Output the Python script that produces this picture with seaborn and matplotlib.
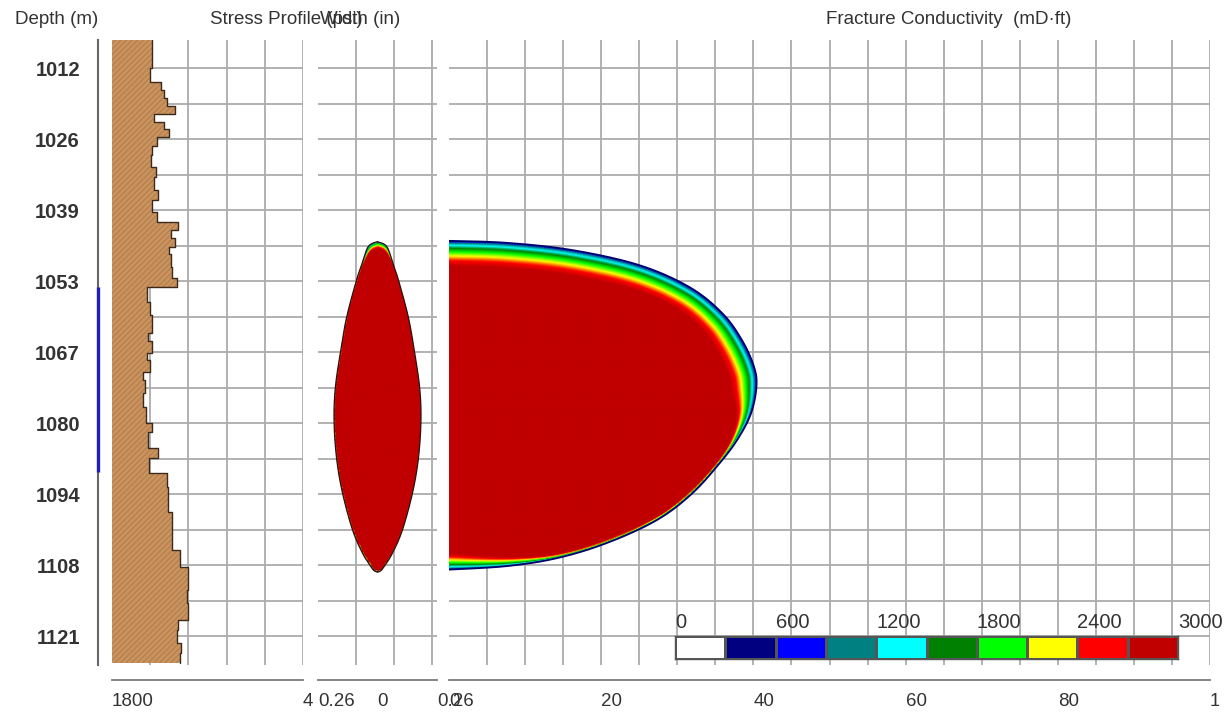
import numpy as np
import matplotlib
matplotlib.use("Agg")
import matplotlib.pyplot as plt
import seaborn as sns
from matplotlib.colors import ListedColormap, LinearSegmentedColormap
from matplotlib.patches import Polygon
from matplotlib.transforms import Bbox

# ---------------- data ----------------
depth_tick_labels = ["1012", "1026", "1039", "1053", "1067", "1080", "1094", "1108", "1121"]
depth_first_tick, depth_last_tick = 1012.2, 1121.16
depth_top, depth_bottom = 1006.8, 1126.7

perf_top, perf_bottom = 1054.2, 1089.7

layer_tops = [1006.8, 1012.2, 1014.9, 1016.4, 1018.0, 1019.5, 1021.0, 1022.6, 1023.9, 1025.4,
              1027.2, 1028.9, 1031.2, 1033.1, 1035.6, 1037.5, 1039.8, 1041.7, 1043.3, 1044.8,
              1046.5, 1047.9, 1050.4, 1052.5, 1054.2, 1057.1, 1059.6, 1063.0, 1064.6, 1066.9,
              1068.2, 1070.5, 1072.1, 1074.6, 1077.2, 1080.3, 1082.0, 1085.1, 1087.0, 1089.9,
              1092.6, 1097.4, 1100.8, 1104.7, 1107.9, 1112.3, 1114.8, 1118.1, 1120.0, 1122.5,
              1124.4]
layer_base = 1126.3
layer_stress = [2330, 2300, 2440, 2480, 2520, 2620, 2350, 2480, 2550, 2390,
                2330, 2310, 2370, 2350, 2400, 2320, 2390, 2660, 2570, 2620,
                2540, 2570, 2590, 2650, 2260, 2300, 2320, 2270, 2320, 2260,
                2300, 2200, 2230, 2200, 2240, 2330, 2270, 2400, 2280, 2520,
                2530, 2590, 2580, 2690, 2790, 2780, 2790, 2660, 2650, 2700,
                2690]
stress_range = (1800, 4300)
stress_grid_step = 500
stress_tick_labels = ["1800", "4300"]

width_depth = [1045.5, 1045.8, 1046.35, 1047.5, 1050.0, 1052.9, 1060.0, 1066.7, 1073.4,
               1079.7, 1087.0, 1093.7, 1100.8, 1105.2, 1107.7, 1108.6, 1108.9]
width_half = [0.0, 0.022, 0.039, 0.052, 0.070, 0.092, 0.135, 0.162, 0.184,
              0.190, 0.179, 0.153, 0.109, 0.066, 0.031, 0.015, 0.0]
width_band_px = [7, 7, 6, 3.5, 0.8, 0.5, 0.5, 0.5, 0.5, 0.5, 0.5, 0.5, 0.5, 0.5, 0.5, 0.5, 0.5]
width_range = (-0.26, 0.26)
width_tick_values = [-0.26, 0.0, 0.26]
width_tick_labels = ["0.26", "0", "0.26"]
width_grid_step = 0.166

frac_length = [0.0, 7.6, 16.25, 25.0, 31.6, 35.9, 38.5, 40.1, 40.4, 39.7, 38.1, 35.9,
               32.0, 27.3, 20.7, 14.2, 7.6, 0.0]
frac_depth = [1045.33, 1045.71, 1047.11, 1049.99, 1054.21, 1059.20, 1064.38, 1069.56,
              1073.39, 1078.38, 1082.99, 1087.40, 1093.73, 1098.91, 1103.32, 1106.20,
              1107.73, 1108.40]
frac_band_px = [25, 25, 25, 25, 25, 26, 27, 27, 25, 15, 7, 3, 3, 3, 3, 4, 9, 16]
length_range = (0, 100)
length_tick_values = [0, 10, 20, 30, 40, 50, 60, 70, 80, 90, 100]
length_tick_labels = ["0", "", "20", "", "40", "", "60", "", "80", "", "100"]
length_grid_step = 5

cond_colors = ["#ffffff", "#000080", "#0000ff", "#008080", "#00ffff",
               "#008000", "#00ff00", "#ffff00", "#ff0000", "#c00000"]
cond_labels = ["0", "600", "1200", "1800", "2400", "3000"]
cond_max = 3000

# ---------------- style ----------------
sns.set_style("white")
plt.rcParams["font.family"] = ["Liberation Sans", "DejaVu Sans"]
plt.rcParams["hatch.linewidth"] = 0.7
TXT = "#333333"
AXC = "#7a7a7a"
GCOL = "#ababab"
GLW = 1.3

W, H = 1230, 713
fig = plt.figure(figsize=(W / 100, H / 100), dpi=100)
fig.patch.set_facecolor("white")


def rect(x0, x1, y0=40, y1=665):
    return [x0 / W, 1 - y1 / H, (x1 - x0) / W, (y1 - y0) / H]


ax_d = fig.add_axes(rect(98, 99))
ax_s = fig.add_axes(rect(112, 303))
ax_w = fig.add_axes(rect(318, 437))
ax_c = fig.add_axes(rect(449, 1210))

half_step = (depth_last_tick - depth_first_tick) / 16
hgrid = np.arange(depth_first_tick, depth_bottom, half_step)
dticks = np.linspace(depth_first_tick, depth_last_tick, len(depth_tick_labels))


def setup_panel(ax, xlim, xgrid):
    ax.set_xlim(*xlim)
    ax.set_ylim(depth_bottom, depth_top)
    ax.set_yticks(hgrid)
    ax.tick_params(axis="y", length=0, labelleft=False)
    ax.set_xticks(xgrid, minor=True)
    ax.xaxis.remove_overlapping_locs = False
    ax.yaxis.grid(True, color=GCOL, lw=GLW)
    ax.xaxis.grid(True, which="minor", color=GCOL, lw=GLW)
    ax.xaxis.grid(False, which="major")
    ax.tick_params(axis="x", which="minor", length=0)
    for s in ["top", "right", "left"]:
        ax.spines[s].set_visible(False)
    ax.set_axisbelow(True)


def bottom_axis(ax, ticks, labels):
    ax.spines["bottom"].set_position(("outward", 11))
    ax.spines["bottom"].set_color(AXC)
    ax.spines["bottom"].set_linewidth(1.3)
    ax.set_xticks(ticks)
    ax.set_xticklabels(labels)
    ax.tick_params(axis="x", which="major", direction="out", length=6, width=1.3,
                   color=AXC, labelsize=13.5, labelcolor=TXT, pad=3)
    for lab in ax.get_xticklabels():
        lab.set_ha("left")


def catmull(P, n=24):
    P = np.asarray(P, float)
    ext = np.vstack([P[0], P, P[-1]])
    t = np.linspace(0, 1, n, endpoint=False)[:, None]
    segs = []
    for i in range(1, len(ext) - 2):
        p0, p1, p2, p3 = ext[i - 1], ext[i], ext[i + 1], ext[i + 2]
        segs.append(0.5 * (2 * p1 + (-p0 + p2) * t + (2 * p0 - 5 * p1 + 4 * p2 - p3) * t ** 2
                           + (-p0 + 3 * p1 - 3 * p2 + p3) * t ** 3))
    segs.append(P[-1:])
    return np.vstack(segs)


def band_field(ax, curve_xy, curve_t, gx, gy):
    B = ax.transData.transform(curve_xy)
    G = ax.transData.transform(np.column_stack([gx.ravel(), gy.ravel()]))
    out = np.empty(len(G))
    for k in range(0, len(G), 3000):
        g = G[k:k + 3000]
        d = np.hypot(g[:, None, 0] - B[None, :, 0], g[:, None, 1] - B[None, :, 1])
        out[k:k + 3000] = (d / curve_t[None, :]).min(axis=1)
    return out.reshape(gx.shape)


cmap_cont = LinearSegmentedColormap.from_list("cond", cond_colors[1:])


def to_cond(s):
    return cond_max / 10 + (cond_max - cond_max / 10) * np.clip(s, 0, 1) ** 0.55


# ---------------- depth track ----------------
ax_d.set_xlim(0, 1)
ax_d.set_ylim(depth_bottom, depth_top)
for s in ["top", "right", "bottom"]:
    ax_d.spines[s].set_visible(False)
ax_d.spines["left"].set_color("#666666")
ax_d.spines["left"].set_linewidth(1.5)
ax_d.set_xticks([])
ax_d.set_yticks(dticks)
ax_d.set_yticklabels(depth_tick_labels, fontweight="bold")
ax_d.tick_params(axis="y", direction="inout", length=12, width=1.4, color="#555555",
                 pad=7, labelsize=14.5, labelcolor=TXT)
ax_d.vlines(0, perf_top, perf_bottom, color="#1f1fb0", lw=2.4, zorder=5, clip_on=False)

# ---------------- stress profile ----------------
setup_panel(ax_s, stress_range,
            np.arange(stress_range[0] + stress_grid_step, stress_range[1] + 1, stress_grid_step))
edges = np.append(layer_tops, layer_base)
xs = np.append(layer_stress, layer_stress[-1])
ax_s.fill_betweenx(edges, stress_range[0], xs, step="post", facecolor="#c8935f",
                   edgecolor="#b27a48", hatch="//////", linewidth=0, zorder=1)
oy = np.repeat(edges, 2)[1:-1]
ox = np.repeat(layer_stress, 2)
sns.lineplot(x=ox, y=oy, sort=False, estimator=None, ax=ax_s, color="#3b2a1c", lw=1.0, zorder=3)
ax_s.set_xlim(*stress_range)
ax_s.set_ylim(depth_bottom, depth_top)
ax_s.set_xlabel("")
ax_s.set_ylabel("")
bottom_axis(ax_s, list(stress_range), stress_tick_labels)
clip_l = ax_s.get_xticklabels()[-1]
clip_l.set_clip_box(Bbox.from_extents(0, 0, 313, H))
clip_l.set_clip_on(True)

# ---------------- width ----------------
setup_panel(ax_w, width_range,
            width_range[0] + width_grid_step * np.arange(1, 4))
right = catmull(np.column_stack([width_half, width_depth, width_band_px]))
right[:, 2] = np.clip(right[:, 2], 0.4, None)
left = right.copy()
left[:, 0] *= -1
w_curve = np.vstack([right, left])
gx, gy = np.meshgrid(np.linspace(-0.2, 0.2, 120), np.linspace(1045.0, 1109.5, 360))
s_w = band_field(ax_w, w_curve[:, :2], w_curve[:, 2], gx, gy)
im_w = ax_w.imshow(to_cond(s_w), cmap=cmap_cont, vmin=cond_max / 10, vmax=cond_max,
                   extent=[-0.2, 0.2, 1109.5, 1045.0], origin="upper", aspect="auto",
                   interpolation="bilinear", zorder=2)
poly_w = Polygon(np.vstack([right[:, :2], left[::-1, :2]]), closed=True,
                 transform=ax_w.transData)
im_w.set_clip_path(poly_w)
ow = np.vstack([right[:, :2], left[::-1, :2]])
sns.lineplot(x=ow[:, 0], y=ow[:, 1], sort=False, estimator=None, ax=ax_w,
             color="#2a1010", lw=0.9, zorder=3)
ax_w.set_xlim(*width_range)
ax_w.set_ylim(depth_bottom, depth_top)
ax_w.set_xlabel("")
ax_w.set_ylabel("")
bottom_axis(ax_w, width_tick_values, width_tick_labels)

# ---------------- conductivity ----------------
setup_panel(ax_c, length_range,
            np.arange(length_range[0] + length_grid_step, length_range[1] + 1, length_grid_step))
fc = catmull(np.column_stack([frac_length, frac_depth, frac_band_px]))
fc[:, 2] = np.clip(fc[:, 2], 1.0, None)
gx, gy = np.meshgrid(np.linspace(0, 42, 330), np.linspace(1045.0, 1109.0, 340))
s_c = band_field(ax_c, fc[:, :2], fc[:, 2], gx, gy)
im_c = ax_c.imshow(to_cond(s_c), cmap=cmap_cont, vmin=cond_max / 10, vmax=cond_max,
                   extent=[0, 42, 1109.0, 1045.0], origin="upper", aspect="auto",
                   interpolation="bilinear", zorder=2)
poly_c = Polygon(fc[:, :2], closed=True, transform=ax_c.transData)
im_c.set_clip_path(poly_c)
sns.lineplot(x=fc[:, 0], y=fc[:, 1], sort=False, estimator=None, ax=ax_c,
             color="#00006e", lw=1.3, zorder=3)
ax_c.set_xlim(*length_range)
ax_c.set_ylim(depth_bottom, depth_top)
ax_c.set_xlabel("")
ax_c.set_ylabel("")
bottom_axis(ax_c, length_tick_values, length_tick_labels)
last = ax_c.get_xticklabels()[-1]
last.set_clip_box(Bbox.from_extents(0, 0, 1219, H))
last.set_clip_on(True)

# ---------------- colour legend ----------------
ax_leg = fig.add_axes(rect(675, 1178, 636, 659))
sns.heatmap(np.arange(len(cond_colors)).reshape(1, -1), cmap=ListedColormap(cond_colors),
            vmin=-0.5, vmax=len(cond_colors) - 0.5, cbar=False, linewidths=1.0,
            linecolor="#555555", ax=ax_leg, xticklabels=False, yticklabels=False)
for s in ax_leg.spines.values():
    s.set_visible(True)
    s.set_color("#555555")
    s.set_linewidth(1.0)
ax_leg.set_xticks(np.arange(0, len(cond_colors) + 1, 2))
ax_leg.set_xticklabels(cond_labels)
ax_leg.xaxis.tick_top()
ax_leg.tick_params(axis="x", length=0, pad=3, labelsize=14.5, labelcolor=TXT)
for lab in ax_leg.get_xticklabels():
    lab.set_ha("left")

# ---------------- headers ----------------
hdr = dict(fontsize=13.5, color=TXT, va="center", ha="left")
fig.text(15 / W, 1 - 20 / H, "Depth (m)", **hdr)
fig.text(210 / W, 1 - 20 / H, "Stress Profile (psi)", **hdr)
fig.text(320 / W, 1 - 20 / H, "Width (in)", **hdr)
fig.text(826 / W, 1 - 20 / H, "Fracture Conductivity  (mD·ft)", **hdr)

fig.savefig("out.png", dpi=100, facecolor="white")
